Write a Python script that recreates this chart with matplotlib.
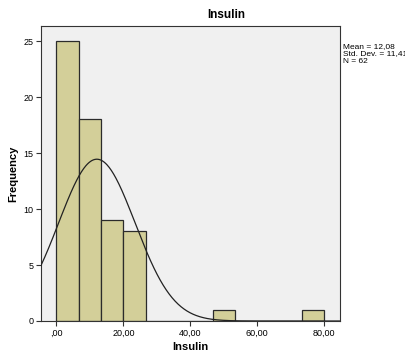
import numpy as np
import matplotlib
matplotlib.use("Agg")
import matplotlib.pyplot as plt

plt.rcParams['font.family'] = ['Liberation Sans', 'DejaVu Sans']

# histogram data
bin_edges = [0.0, 6.667, 13.333, 20.0, 26.667, 33.333, 40.0, 46.667, 53.333, 60.0, 66.667, 73.333, 80.0]
counts = [25, 18, 9, 8, 0, 0, 0, 1, 0, 0, 0, 1]
mean_val = 12.08
std_val = 11.41
n_val = 62
x_ticks = [0, 20, 40, 60, 80]
x_ticklabels = [',00', '20,00', '40,00', '60,00', '80,00']
y_ticks = [0, 5, 10, 15, 20, 25]

fig = plt.figure(figsize=(4.06, 3.54), dpi=100, facecolor='white')
ax = fig.add_axes([41/406, 1 - 321/354, 299/406, 295/354])
ax.set_facecolor('#F0F0F0')

widths = np.diff(bin_edges)
ax.bar(bin_edges[:-1], counts, width=widths, align='edge',
       color='#D3CF99', edgecolor='#2b2b2b', linewidth=0.9, zorder=2)

# fitted normal curve, scaled to counts
xlim = (-4.6, 84.7)
xs = np.linspace(xlim[0], xlim[1], 400)
bw = widths[0]
ys = n_val * bw / (std_val * np.sqrt(2 * np.pi)) * np.exp(-0.5 * ((xs - mean_val) / std_val) ** 2)
ax.plot(xs, ys, color='#222222', linewidth=0.9, zorder=3)

ax.set_xlim(*xlim)
ax.set_ylim(0, 26.35)
ax.set_xticks(x_ticks)
ax.set_xticklabels(x_ticklabels)
ax.set_yticks(y_ticks)
ax.tick_params(axis='both', labelsize=6.5, length=3.5, width=0.8, color='#333333', pad=2)

for s in ax.spines.values():
    s.set_color('#333333')
    s.set_linewidth(0.8)

ax.set_xlabel('Insulin', fontsize=8, fontweight='bold', labelpad=3)
ax.set_ylabel('Frequency', fontsize=8, fontweight='bold', labelpad=4)
fig.text(226/406, 1 - 15/354, 'Insulin', fontsize=8.5, fontweight='bold', ha='center', va='center')

stats = 'Mean = 12,08\nStd. Dev. = 11,41\nN = 62'
fig.text(343/406, 1 - 43/354, stats, fontsize=6, ha='left', va='top', linespacing=1.1)

plt.savefig('out.png', dpi=100)
